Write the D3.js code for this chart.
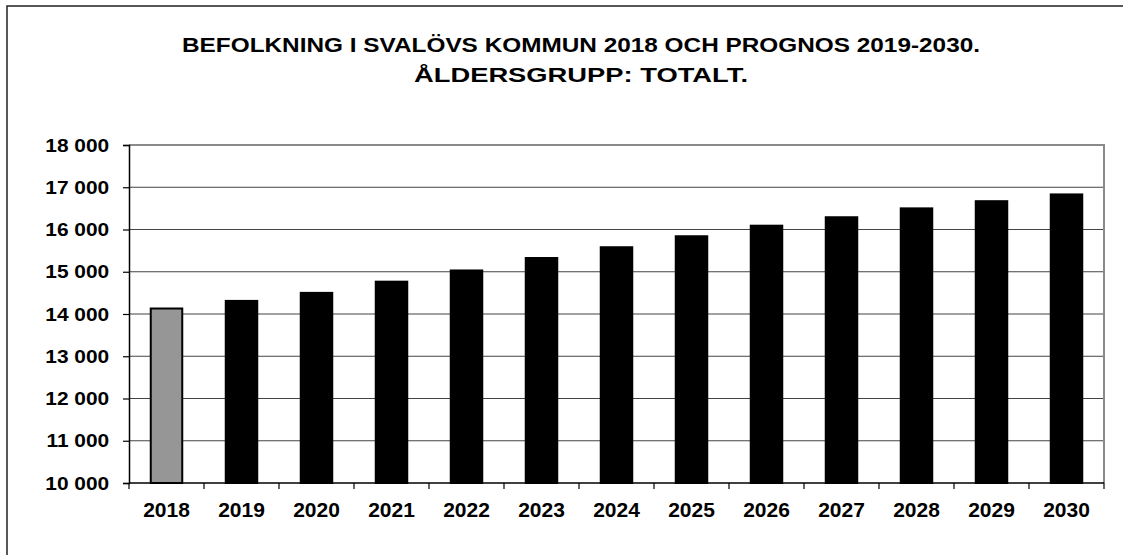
<!DOCTYPE html>
<html>
<head>
<meta charset="utf-8">
<script src="https://cdn.jsdelivr.net/npm/d3@7"></script>
<style>
  body { margin: 0; background: #fff; }
  text { font-family: "Liberation Sans", Arial, sans-serif; font-weight: bold; fill: #000; }
</style>
</head>
<body>
<script>
var width = 1123;
var height = 555;

// data
var years = ["2018", "2019", "2020", "2021", "2022", "2023", "2024", "2025", "2026", "2027", "2028", "2029", "2030"];
var population = [14130, 14310, 14500, 14765, 15030, 15325, 15580, 15840, 16090, 16290, 16500, 16670, 16830];
var yTicks = [10000, 11000, 12000, 13000, 14000, 15000, 16000, 17000, 18000];
var titleLines = ["BEFOLKNING I SVALÖVS KOMMUN 2018 OCH PROGNOS 2019-2030.", "ÅLDERSGRUPP: TOTALT."];
var titleWidths = [798, 334]; // rendered width of each title line in the original

var plotLeft = 129, plotRight = 1104, plotTop = 145, plotBottom = 483;

var svg = d3.select("body")
    .append("svg")
    .attr("width", width)
    .attr("height", height);

svg.append("rect")
    .attr("width", width)
    .attr("height", height)
    .attr("fill", "#ffffff");

// outer frame (runs off the right and bottom edges)
svg.append("rect")
    .attr("x", 7)
    .attr("y", 6)
    .attr("width", width + 10)
    .attr("height", height + 10)
    .attr("fill", "none")
    .attr("stroke", "#222")
    .attr("stroke-width", 1.5);

// title
svg.append("g")
    .selectAll("text")
    .data(titleLines)
    .enter()
    .append("text")
    .attr("x", function(d, i) { return 581 - titleWidths[i] / 2; })
    .attr("y", function(d, i) { return 52 + i * 30; })
    .attr("textLength", function(d, i) { return titleWidths[i]; })
    .attr("lengthAdjust", "spacingAndGlyphs")
    .attr("font-size", 20.5)
    .text(function(d) { return d; });

var x = d3.scaleBand()
    .domain(years)
    .range([plotLeft, plotRight])
    .paddingInner(0.58)
    .paddingOuter(0.29);

var y = d3.scaleLinear()
    .domain([10000, 18000])
    .range([plotBottom, plotTop]);

// gridlines
svg.append("g")
    .selectAll("line")
    .data(yTicks.slice(1, -1))
    .enter()
    .append("line")
    .attr("x1", plotLeft)
    .attr("x2", plotRight)
    .attr("y1", function(d) { return y(d); })
    .attr("y2", function(d) { return y(d); })
    .attr("stroke", "#444")
    .attr("stroke-width", 1.2);

// plot frame top and right (grey)
svg.append("path")
    .attr("d", "M" + plotLeft + "," + plotTop + "H" + plotRight + "V" + plotBottom)
    .attr("fill", "none")
    .attr("stroke", "#8a8a8a")
    .attr("stroke-width", 2);

// bars
svg.append("g")
    .selectAll("rect")
    .data(population)
    .enter()
    .append("rect")
    .attr("x", function(d, i) { return x(years[i]); })
    .attr("y", function(d) { return y(d); })
    .attr("width", x.bandwidth())
    .attr("height", function(d) { return plotBottom - y(d); })
    .attr("fill", function(d, i) { return i === 0 ? "#969696" : "#000"; })
    .attr("stroke", "#000")
    .attr("stroke-width", 2);

// y axis
var yAxis = svg.append("g")
    .attr("transform", "translate(" + plotLeft + ",0)")
    .call(d3.axisLeft(y)
        .tickValues(yTicks)
        .tickSize(6)
        .tickPadding(14)
        .tickFormat(function(d) { return d3.format(",")(d).replace(",", " "); }));
yAxis.select(".domain").attr("stroke", "#000").attr("stroke-width", 1.5);
yAxis.selectAll(".tick line").attr("stroke", "#000").attr("stroke-width", 1.2);
yAxis.selectAll(".tick text")
    .attr("font-size", 19)
    .attr("font-family", "Liberation Sans, Arial, sans-serif")
    .attr("font-weight", "bold")
    .attr("fill", "#000")
    .attr("x", -18)
    .attr("transform", "scale(1.1,1)");

// x axis with ticks on category boundaries
var xAxis = svg.append("g")
    .attr("transform", "translate(0," + plotBottom + ")");
xAxis.append("line")
    .attr("x1", plotLeft)
    .attr("x2", plotRight)
    .attr("stroke", "#000")
    .attr("stroke-width", 1.5);
var step = x.step();
xAxis.selectAll(".xtick")
    .data(d3.range(years.length + 1))
    .enter()
    .append("line")
    .attr("class", "xtick")
    .attr("x1", function(i) { return plotLeft + i * step; })
    .attr("x2", function(i) { return plotLeft + i * step; })
    .attr("y1", 0)
    .attr("y2", 6)
    .attr("stroke", "#000")
    .attr("stroke-width", 1.2);
xAxis.selectAll(".xlabel")
    .data(years)
    .enter()
    .append("text")
    .attr("class", "xlabel")
    .attr("x", function(d) { return x(d) + x.bandwidth() / 2; })
    .attr("y", 34)
    .attr("text-anchor", "middle")
    .attr("font-size", 21)
    .text(function(d) { return d; });
</script>
</body>
</html>
